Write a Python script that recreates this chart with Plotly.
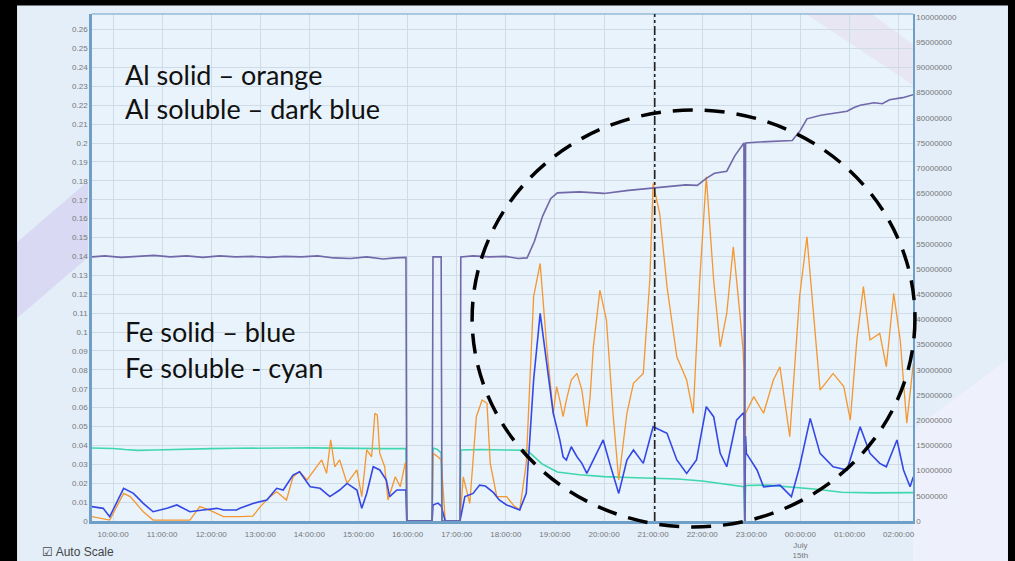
import plotly.graph_objects as go

# ---------------- data ----------------
al_sol_t = ["09:34","09:50","10:10","10:30","10:50","11:10","11:30","11:50","12:10","12:30","12:50",
            "13:10","13:30","13:50","14:10","14:30","14:50","15:10","15:30","15:45","15:58","15:59",
            "16:30","16:31","16:41","16:42","17:04","17:05","17:20","17:40","18:00","18:15","18:26",
            "18:35","18:45","18:55","19:03","19:30","20:00","20:30","21:00","21:20","21:40","21:54",
            "22:05","22:15","22:30","22:40","22:50","22:51","22:52","22:53","23:10","23:30","23:50",
            "00:00","00:08","00:25","00:45","00:57","01:05","01:13","01:30","01:40","01:49","02:05","02:18"]
al_sol_v = [52.4,52.6,52.3,52.5,52.7,52.4,52.6,52.3,52.6,52.4,52.5,
            52.3,52.5,52.4,52.6,52.2,52.1,52.4,52.0,52.2,52.3,0,
            0,52.4,52.4,0,0,52.4,52.6,52.4,52.5,52.1,52.2,
            55.5,60.5,64.0,65.1,65.3,65.0,65.6,66.1,66.3,66.7,66.6,
            68.0,69.0,69.4,72.5,75.0,75.0,0,75.0,75.2,75.3,75.5,
            77.5,79.8,80.5,81.0,81.3,82.0,82.5,83.0,82.8,83.6,84.0,84.6]  # millions

fe_sol_t = ["09:34","10:00","10:15","10:30","10:50","11:10","11:30","12:00","12:30","13:00","13:30",
            "14:00","14:30","15:00","15:30","15:58","15:59","16:30","16:31","16:36","16:41","16:42",
            "17:04","17:05","17:30","18:00","18:26","18:45","19:03","19:30","20:00","20:30","21:00",
            "21:30","22:00","22:30","22:51","22:52","22:53","23:20","23:50","00:20","00:50","01:30","02:18"]
fe_sol_v = [0.0386,0.0384,0.0378,0.0374,0.0376,0.0379,0.0381,0.0383,0.0385,0.0384,0.0386,
            0.0387,0.0385,0.0386,0.0383,0.0384,0,0,0.0386,0.0380,0.0360,0,
            0,0.0376,0.0378,0.0376,0.0374,0.0300,0.0259,0.0245,0.0235,0.0230,0.0228,
            0.0222,0.0212,0.0195,0.0182,0,0.0188,0.0190,0.0178,0.0168,0.0152,0.0149,0.0150]

fe_solid_t = ["09:34","09:48","09:56","10:13","10:25","10:37","10:49","11:06","11:18","11:34","11:50",
              "12:07","12:15","12:31","12:35","12:51","13:08","13:20","13:28","13:40","13:48","14:01",
              "14:13","14:25","14:37","14:46","14:58","15:04","15:10","15:18","15:26","15:34","15:38",
              "15:47","15:57","15:58","15:59",
              "16:30","16:31","16:37","16:41","16:46","17:04","17:10","17:20","17:28","17:35","17:45",
              "17:52","18:01","18:17","18:25","18:34","18:42","18:50","18:58","19:06","19:10","19:14",
              "19:20","19:27","19:33","19:39","19:47","19:59","20:07","20:18","20:28","20:36","20:48",
              "21:00","21:17","21:29",
              "21:41","21:53","22:05","22:14","22:22","22:30","22:42","22:50","22:51","22:52","22:53",
              "22:54","23:07","23:15","23:35","23:49","23:59","00:12","00:24","00:40","00:57","01:13",
              "01:25","01:37","01:45","01:58","02:06","02:14","02:18"]
fe_solid_v = [0.0076,0.0067,0.0023,0.0173,0.0146,0.0093,0.0049,0.0067,0.0085,0.0049,0.0058,
              0.0067,0.0058,0.0058,0.0067,0.0093,0.0111,0.0173,0.0164,0.0243,0.0261,0.0181,
              0.0173,0.0129,0.0164,0.0199,0.0164,0.0067,0.0146,0.0287,0.0270,0.0217,0.0129,
              0.0164,0.0164,0.0164,0,
              0,0.0085,0.0095,0.0080,0,0,0.0129,0.0146,0.0190,0.0185,0.0150,
              0.0111,0.0085,0.0058,0.0146,0.0746,0.1099,0.0834,0.0570,0.0429,0.0340,0.0323,
              0.0393,0.0340,0.0305,0.0252,0.0323,0.0429,0.0305,0.0146,0.0323,0.0376,0.0305,
              0.0499,0.0464,0.0323,
              0.0252,0.0323,0.0605,0.0552,0.0358,0.0287,0.0534,0.0570,0.0560,0,0.0450,
              0.0358,0.0270,0.0181,0.0190,0.0129,0.0287,0.0543,0.0358,0.0287,0.0270,0.0499,
              0.0358,0.0305,0.0287,0.0429,0.0270,0.0181,0.0234]

al_solid_t = ["09:34","09:56","10:13","10:21","10:37","10:49","11:34","11:46","11:58","12:15","12:35",
              "12:51","13:00","13:12","13:20","13:32","13:40","13:48","13:57","14:09","14:15","14:21",
              "14:26","14:31","14:37","14:46","14:58","15:04","15:10","15:16","15:20","15:23","15:26",
              "15:32","15:36","15:45","15:51","15:57","15:58","15:59","16:30",
              "16:31","16:37","16:41","16:46","17:04","17:08","17:16","17:24","17:31","17:37","17:41",
              "17:49","18:01","18:10","18:17","18:25","18:34","18:42","18:50","18:54","18:58","19:02",
              "19:06","19:10","19:14","19:20","19:27","19:33","19:39","19:43","19:47","19:55","20:03",
              "20:11","20:18","20:28","20:36","20:48","20:56",
              "21:00","21:08","21:17","21:29","21:41","21:49","21:57","22:05","22:14","22:22","22:30",
              "22:38","22:46","22:50","22:51","22:52","22:53","23:03","23:15","23:27","23:35","23:47",
              "23:59","00:08","00:16","00:24","00:40","00:53","01:01","01:09","01:17","01:25","01:37",
              "01:45","01:54","02:02","02:10","02:18"]
al_solid_v = [0.0023,0.0005,0.0146,0.0129,0.0049,0.0005,0.0005,0.0076,0.0058,0.0023,0.0023,
              0.0026,0.0076,0.0129,0.0155,0.0111,0.0234,0.0261,0.0217,0.0287,0.0323,0.0252,
              0.0429,0.0287,0.0323,0.0199,0.0270,0.0129,0.0376,0.0340,0.0570,0.0561,0.0358,
              0.0287,0.0111,0.0234,0.0181,0.0305,0.0305,0,0,
              0.0358,0.0340,0.0323,0,0,0.0234,0.0093,0.0552,0.0640,0.0623,0.0305,
              0.0129,0.0129,0.0080,0.0058,0.0305,0.1187,0.1363,0.0922,0.0746,0.0570,0.0711,
              0.0640,0.0552,0.0640,0.0746,0.0781,0.0693,0.0499,0.0658,0.0922,0.1222,0.1063,
              0.0570,0.0217,0.0570,0.0729,0.0781,0.1275,
              0.1787,0.1628,0.1240,0.0869,0.0746,0.0570,0.1275,0.1822,0.1275,0.0922,0.1099,
              0.1451,0.1099,0.0900,0.0800,0,0.0570,0.0658,0.0570,0.0746,0.0816,0.0446,
              0.1187,0.1504,0.1099,0.0693,0.0781,0.0711,0.0534,0.0958,0.1240,0.0958,0.0993,
              0.0816,0.1205,0.0958,0.0517,0.0834]

x_tick_times = ["10:00","11:00","12:00","13:00","14:00","15:00","16:00","17:00","18:00",
                "19:00","20:00","21:00","22:00","23:00","00:00","01:00","02:00"]
x_tick_text = ["10:00:00","11:00:00","12:00:00","13:00:00","14:00:00","15:00:00","16:00:00",
               "17:00:00","18:00:00","19:00:00","20:00:00","21:00:00","22:00:00","23:00:00",
               "00:00:00<br>July<br>15th","01:00:00","02:00:00"]
left_ticks = [round(i * 0.01, 2) for i in range(27)]
right_ticks = [i * 5000000 for i in range(21)]

labels_al = ["Al solid – orange", "Al soluble – dark blue"]
labels_fe = ["Fe solid – blue", "Fe soluble - cyan"]
cursor_time = "21:02"


def ts(hm):
    h = int(hm.split(":")[0])
    day = "2021-07-14" if h >= 9 else "2021-07-15"
    return f"{day} {hm}:00"


fig = go.Figure()
fig.add_trace(go.Scatter(x=[ts(t) for t in fe_sol_t], y=fe_sol_v, mode="lines",
                         line=dict(color="#3fd7ae", width=1.6), name="Fe soluble"))
fig.add_trace(go.Scatter(x=[ts(t) for t in al_solid_t], y=al_solid_v, mode="lines",
                         line=dict(color="#f5962e", width=1.3), name="Al solid"))
fig.add_trace(go.Scatter(x=[ts(t) for t in fe_solid_t], y=fe_solid_v, mode="lines",
                         line=dict(color="#3348e6", width=1.6), name="Fe solid"))
fig.add_trace(go.Scatter(x=[ts(t) for t in al_sol_t], y=[v * 1e6 for v in al_sol_v], mode="lines",
                         line=dict(color="#7068a8", width=1.6), name="Al soluble", yaxis="y2"))

tick_font = dict(family="Liberation Sans, Arial", size=8, color="#777777")
frame_col = "#6f9fc6"

fig.update_layout(
    width=1015, height=561,
    margin=dict(l=92, r=102, t=14, b=40, autoexpand=False),
    paper_bgcolor="#e3eef9",
    plot_bgcolor="#e9f3fb",
    showlegend=False,
    xaxis=dict(
        type="date", automargin=False,
        range=["2021-07-14 09:34:20", "2021-07-15 02:17:36"],
        tickvals=[ts(t) for t in x_tick_times], ticktext=x_tick_text,
        tickfont=tick_font, showgrid=True, gridcolor="#cfdce8", gridwidth=1,
        showline=True, linecolor=frame_col, linewidth=2.5, mirror=False,
        ticks="", ticklabelstandoff=4, zeroline=False,
    ),
    yaxis=dict(
        range=[0, 0.2683], tickvals=left_ticks, automargin=False,
        ticktext=[("%g" % v) for v in left_ticks],
        tickfont=tick_font, showgrid=True, gridcolor="#cfdce8", gridwidth=1,
        showline=True, linecolor=frame_col, linewidth=2.5, ticks="", zeroline=False,
    ),
    yaxis2=dict(
        overlaying="y", side="right", range=[0, 100.6e6], tickvals=right_ticks,
        automargin=False,
        ticktext=[str(v) for v in right_ticks], tickfont=tick_font, showgrid=False,
        showline=True, linecolor=frame_col, linewidth=1.5, ticks="", zeroline=False,
    ),
)

shapes = []
# faint diagonal pastel bands of the screenshot background
shapes.append(dict(type="path", xref="paper", yref="paper", layer="below",
                   path="M -0.0913,0.40 L -0.0913,0.55 L -0.005,0.67 L -0.005,0.52 Z",
                   fillcolor="rgba(205,190,235,0.45)", line=dict(width=0)))
shapes.append(dict(type="path", xref="paper", yref="paper", layer="below",
                   path="M 0.87,1.0 L 0.95,1.0 L 1.0,0.94 L 1.0,0.86 Z",
                   fillcolor="rgba(235,205,232,0.35)", line=dict(width=0)))
shapes.append(dict(type="path", xref="paper", yref="paper", layer="below",
                   path="M 1.0,0.18 L 1.116,0.32 L 1.116,-0.08 L 1.0,-0.08 Z",
                   fillcolor="rgba(242,242,252,0.7)", line=dict(width=0)))
# top frame line
shapes.append(dict(type="line", xref="paper", yref="paper", x0=0, x1=1, y0=1, y1=1,
                   line=dict(color=frame_col, width=1.2)))
# cursor line
shapes.append(dict(type="line", xref="x", yref="paper", x0=ts(cursor_time), x1=ts(cursor_time),
                   y0=0, y1=1, line=dict(color="#222222", width=1.6, dash="dashdot")))
# dashed highlight circle
shapes.append(dict(type="circle", xref="paper", yref="paper",
                   x0=0.463, x1=1.0024, y0=-0.0118, y1=0.8107,
                   line=dict(color="#000000", width=3.5, dash="20px,12px")))
# black screenshot borders
shapes.append(dict(type="rect", xref="paper", yref="paper", x0=-0.13, x1=-0.0913,
                   y0=-0.1, y1=1.05, fillcolor="#000000", line=dict(width=0)))
shapes.append(dict(type="rect", xref="paper", yref="paper", x0=-0.13, x1=1.14,
                   y0=1.0168, y1=1.05, fillcolor="#000000", line=dict(width=0)))
shapes.append(dict(type="rect", xref="paper", yref="paper", x0=1.1157, x1=1.14,
                   y0=-0.1, y1=1.05, fillcolor="#000000", line=dict(width=0)))
fig.update_layout(shapes=shapes)

text_font = dict(family="Lato, Open Sans, sans-serif", size=27, color="#111111")
ann = []
for txt, py in [(labels_al[0], 75), (labels_al[1], 108), (labels_fe[0], 331), (labels_fe[1], 367)]:
    ann.append(dict(xref="paper", yref="paper", x=(123 - 92) / 821, y=1 - (py - 14) / 507,
                    xanchor="left", yanchor="middle", showarrow=False, font=text_font,
                    text=txt))
ann.append(dict(xref="paper", yref="paper", x=(40 - 92) / 821, y=1 - (552 - 14) / 507,
                xanchor="left", yanchor="middle", showarrow=False,
                font=dict(family="Liberation Sans Narrow, Arial", size=12, color="#444444"),
                text="☑ Auto Scale"))
fig.update_layout(annotations=ann)

fig.write_html("out.html", config={"displayModeBar": False},
               post_script="document.body.style.margin='0';")
